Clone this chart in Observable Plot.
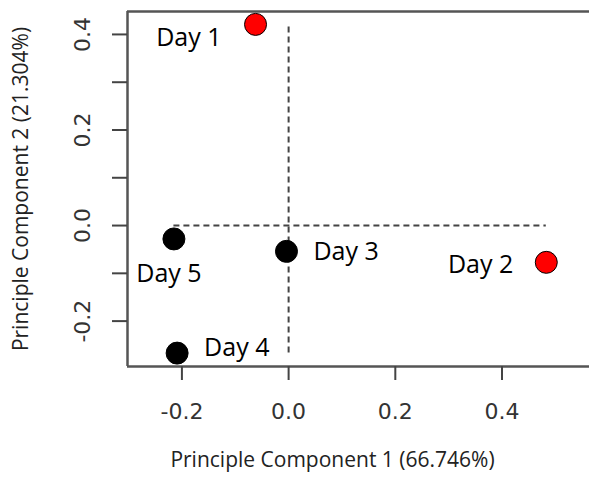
<!DOCTYPE html>
<html>
<head>
<meta charset="utf-8">
<script src="https://cdn.jsdelivr.net/npm/d3@7"></script>
<script src="https://cdn.jsdelivr.net/npm/@observablehq/plot@0.6"></script>
<style>
  html, body { margin: 0; padding: 0; background: #fff; }
  svg { overflow: visible; }
</style>
</head>
<body>
<div id="chart"></div>
<script>
// Data
const days = ["Day 1", "Day 2", "Day 3", "Day 4", "Day 5"];
const pc1 = [-0.062, 0.483, -0.004, -0.209, -0.215];
const pc2 = [0.421, -0.077, -0.054, -0.267, -0.028];
const groupColor = ["red", "red", "black", "black", "black"];
const xTicks = [-0.2, 0.0, 0.2, 0.4];
const yTicks = [-0.2, -0.1, 0.0, 0.1, 0.2, 0.3, 0.4];
const yTickLabels = [-0.2, 0.0, 0.2, 0.4];
const xTitle = "Principle Component 1 (66.746%)";
const yTitle = "Principle Component 2 (21.304%)";

// Label placement (styling, separate from data)
const labelAnchor = ["end", "end", "start", "start", "middle"];
const labelDx = [-34, -33, 27, 27, -5];
const labelDy = [14, 3, 1, -5, 35];

const xDomain = [-0.302, 0.564];
const yDomain = [-0.295, 0.448];

const points = days.map((d, i) => ({day: d, x: pc1[i], y: pc2[i], color: groupColor[i], i}));
const xMin = d3.min(pc1), xMax = d3.max(pc1);
const yMin = d3.min(pc2), yMax = d3.max(pc2);

const tickFont = "DejaVu Sans, sans-serif";
const textFont = "Open Sans, sans-serif";
const fmt = d => d3.format(".1f")(d).replace("\u2212", "-");

const labelMarks = points.map((p, i) =>
  Plot.text([p], {
    x: "x", y: "y", text: "day",
    textAnchor: labelAnchor[i], dx: labelDx[i], dy: labelDy[i],
    fontSize: 25, fontFamily: textFont, fill: "black"
  })
);

const chart = Plot.plot({
  width: 589,
  height: 483,
  marginLeft: 127,
  marginRight: 0,
  marginTop: 11,
  marginBottom: 117,
  style: {background: "white", overflow: "visible"},
  x: {domain: xDomain},
  y: {domain: yDomain},
  marks: [
    // box (top, left, bottom; right side cropped in reference)
    Plot.ruleY([yDomain[1]], {stroke: "#555", strokeWidth: 2.5}),
    Plot.ruleY([yDomain[0]], {stroke: "#555", strokeWidth: 2.5}),
    Plot.ruleX([xDomain[0]], {stroke: "#555", strokeWidth: 2.5}),
    // ticks
    Plot.axisX(xTicks, {tickSize: 14, tickFormat: () => "", stroke: "#444", strokeWidth: 2, label: null, tickPadding: 0}),
    Plot.axisY(yTicks, {tickSize: 15, tickFormat: () => "", stroke: "#444", strokeWidth: 2, label: null, tickPadding: 0}),
    // tick labels
    Plot.text(xTicks, {x: d => d, frameAnchor: "bottom", dy: 45, text: fmt, textAnchor: "middle",
      fontSize: 22, fontFamily: tickFont, fill: "#333", lineAnchor: "middle"}),
    Plot.text(yTickLabels, {y: d => d, frameAnchor: "left", dx: -45, rotate: -90, text: fmt, textAnchor: "middle",
      fontSize: 22, fontFamily: tickFont, fill: "#333", lineAnchor: "middle"}),
    // axis titles
    Plot.text([xTitle], {frameAnchor: "bottom-left", dx: 205, dy: 94, text: d => d, textAnchor: "middle",
      fontSize: 21, fontFamily: textFont, fill: "#222", lineAnchor: "middle"}),
    Plot.text([yTitle], {frameAnchor: "left", dx: -106, rotate: -90, text: d => d, textAnchor: "middle",
      fontSize: 21, fontFamily: textFont, fill: "#222", lineAnchor: "middle"}),
    // dashed reference lines spanning the data range
    Plot.ruleY([0], {x1: xMin, x2: xMax, stroke: "#444", strokeWidth: 2, strokeDasharray: "6,4"}),
    Plot.ruleX([0], {y1: yMin, y2: yMax, stroke: "#444", strokeWidth: 2, strokeDasharray: "6,4"}),
    // points
    Plot.dot(points, {x: "x", y: "y", r: 11, fill: "color", stroke: "black", strokeWidth: 1}),
    ...labelMarks
  ]
});
document.getElementById("chart").appendChild(chart);
</script>
</body>
</html>
